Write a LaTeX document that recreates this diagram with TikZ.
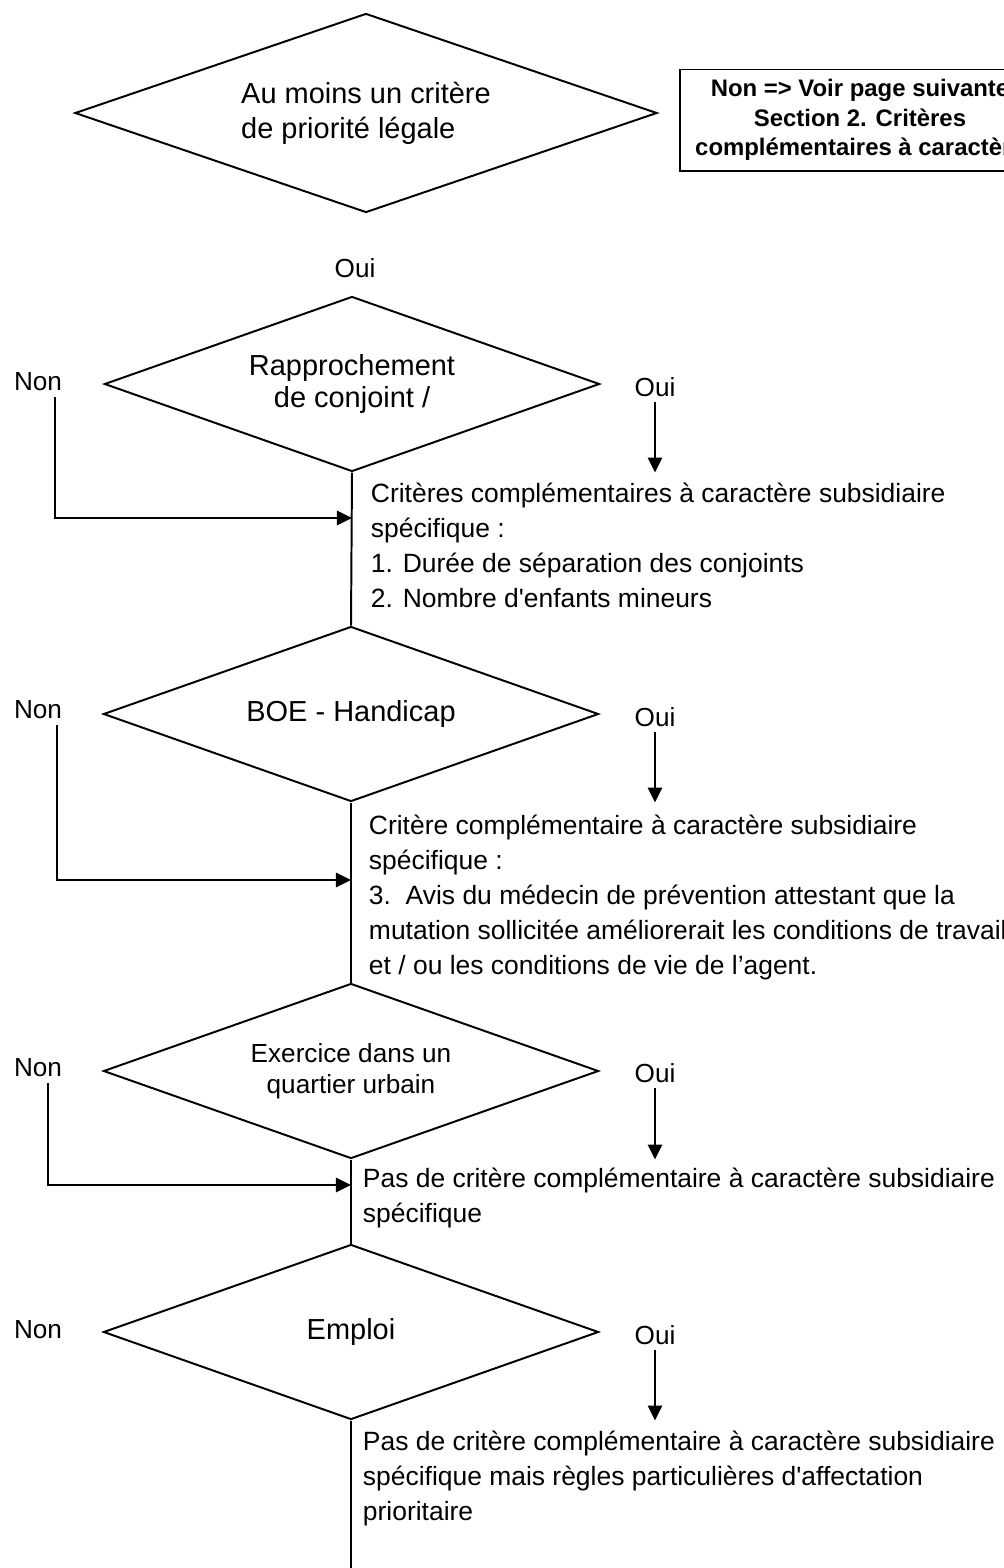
\documentclass[tikz,border=0pt]{standalone}
\usepackage{fontspec}
\setmainfont{Liberation Sans}
\usetikzlibrary{shapes.geometric,arrows.meta,positioning}

\begin{document}
\begin{tikzpicture}[x=0.025cm,y=-0.025cm,line width=1.4pt,
  losange/.style={diamond,draw,inner sep=0pt,aspect=2.83,minimum width=12.375cm,minimum height=4.375cm,
    align=center,font=\fontsize{20.6pt}{22.7pt}\selectfont},
  bloc/.style={anchor=north west,inner sep=0pt,align=left,font=\fontsize{18.8pt}{24.9pt}\selectfont},
  etiq/.style={font=\fontsize{18.6pt}{22pt}\selectfont},
  renvoi/.style={draw,minimum width=9cm,minimum height=2.525cm,align=center,
    font=\bfseries\fontsize{17pt}{21pt}\selectfont},
  fleche/.style={-{Triangle[length=0.375cm,width=0.36cm]}}]
  \path[use as bounding box,clip] (0,0) rectangle (1004,1568);

  \node[losange,aspect=2.92,minimum width=14.55cm,minimum height=4.975cm,align=left,
    font=\fontsize{20.6pt}{24.9pt}\selectfont] (d1) at (366,113) {Au moins un critère\\de priorité légale};
  \node[renvoi] (suite) at (860,120) {Non => Voir page suivante\\Section 2. Critères\\complémentaires à caractère};
  \node[etiq] (oui1) at (355,268) {Oui};

  \node[losange] (d2) at (352,384) {Rapprochement\\de conjoint /};
  \node[etiq] (non2) at (38,382) {Non};
  \node[etiq] (oui2) at (655,387) {Oui};
  \node[bloc] (t2) at (370,482) {Critères complémentaires à caractère subsidiaire\\spécifique :\\1. Durée de séparation des conjoints\\2. Nombre d\textquotesingle enfants mineurs};

  \node[losange] (d3) at (351,714) {BOE - Handicap};
  \node[etiq] (non3) at (38,710) {Non};
  \node[etiq] (oui3) at (655,717) {Oui};
  \node[bloc] (t3) at (368,814) {Critère complémentaire à caractère subsidiaire\\spécifique :\\3.~~Avis du médecin de prévention attestant que la\\mutation sollicitée améliorerait les conditions de travail\\et / ou les conditions de vie de l’agent.};

  \node[losange,font=\fontsize{18.6pt}{22pt}\selectfont] (d4) at (351,1071) {Exercice dans un\\quartier urbain};
  \node[etiq] (non4) at (38,1068) {Non};
  \node[etiq] (oui4) at (655,1073) {Oui};
  \node[bloc] (t4) at (362,1167) {Pas de critère complémentaire à caractère subsidiaire\\spécifique};

  \node[losange] (d5) at (351,1332) {Emploi};
  \node[etiq] (non5) at (38,1330) {Non};
  \node[etiq] (oui5) at (655,1335) {Oui};
  \node[bloc] (t5) at (362,1430) {Pas de critère complémentaire à caractère subsidiaire\\spécifique mais règles particulières d\textquotesingle affectation\\prioritaire};

  \coordinate (e2) at (d2.south |- 0,518);
  \coordinate (e3) at (d3.south |- 0,880);
  \coordinate (e4) at (d4.south |- 0,1185);
  \coordinate (fin) at (d5.south |- 0,1600);

  \draw (d2.south) -- (d3.north);
  \draw (d3.south) -- (d4.north);
  \draw (d4.south) -- (d5.north);
  \draw (d5.south) -- (fin);

  \draw[fleche] (oui2.south) -- (oui2.south |- d2.south);
  \draw[fleche] (oui3.south) -- (oui3.south |- d3.south);
  \draw[fleche] (oui4.south) -- (oui4.south |- d4.south);
  \draw[fleche] (oui5.south) -- (oui5.south |- d5.south);

  \draw[fleche] ([xshift=0.42cm]non2.south) |- (e2);
  \draw[fleche] ([xshift=0.47cm]non3.south) |- (e3);
  \draw[fleche] ([xshift=0.25cm]non4.south) |- (e4);
\end{tikzpicture}
\end{document}
